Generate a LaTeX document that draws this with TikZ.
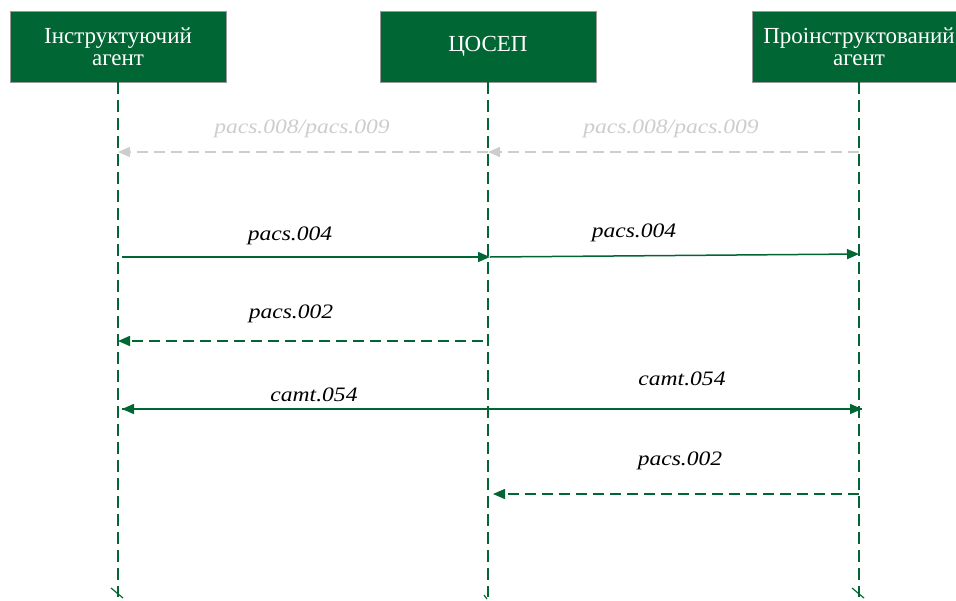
\documentclass[tikz,border=0pt]{standalone}
\usepackage{fontspec}
\setmainfont{Liberation Serif}
\newfontfamily\lblfont[FakeStretch=1.15]{Liberation Serif}
\usetikzlibrary{arrows.meta}
\definecolor{dgreen}{RGB}{0,102,51}
\definecolor{lgray}{RGB}{205,205,205}
\tikzset{
  actor/.style={draw=black!40, line width=0.8pt, fill=dgreen, text=white, minimum height=71, inner sep=0pt, align=center, font=\fontsize{23}{22}\selectfont},
  life/.style={draw=dgreen, line width=1.5pt, dash pattern=on 12pt off 6pt},
  tickmark/.style={draw=dgreen, line width=1.2pt},
  msg/.style={draw=dgreen, line width=1.5pt, -{Triangle[length=12pt,width=10pt]}},
  msgd/.style={msg, dash pattern=on 11pt off 6pt},
  msgg/.style={draw=lgray, line width=1.5pt, dash pattern=on 11pt off 6pt, -{Triangle[length=12pt,width=10pt]}},
  lbl/.style={font=\lblfont\itshape\fontsize{20.5}{20}\selectfont, inner sep=0pt},
  lblg/.style={lbl, text=lgray},
}
\begin{document}
\begin{tikzpicture}[x=1pt,y=-1pt]
\useasboundingbox (0,0) rectangle (956,600);
\clip (0,0) rectangle (956,600);
% actors
\node[actor, minimum width=216] (b1) at (118,46.5) {Інструктуючий\\агент};
\node[actor, minimum width=216] (b2) at (488,46.5) {ЦОСЕП};
\node[actor, minimum width=214] (b3) at (859,46.5) {Проінструктований\\агент};
% lifeline ends
\coordinate (e1) at (118,597);
\coordinate (e2) at (488,597);
\coordinate (e3) at (859,597);
\draw[life] (b1.south) -- (e1);
\draw[life] (b2.south) -- (e2);
\draw[life] (b3.south) -- (e3);
\draw[tickmark] ([shift={(-7,-9)}]e1) -- ([shift={(5,1)}]e1);
\draw[tickmark] ([shift={(-4,-2)}]e2) -- ([shift={(-1,2)}]e2);
\draw[tickmark] ([shift={(-7,-9)}]e3) -- ([shift={(5,1)}]e3);
% message anchor points
\coordinate (g1) at (118,152); \coordinate (g2) at (488,152); \coordinate (g3) at (859,152);
\coordinate (p1) at (122,257); \coordinate (p2) at (490,257); \coordinate (p3) at (859,254);
\coordinate (q1) at (118,341); \coordinate (q2) at (483,341);
\coordinate (c1) at (122,409); \coordinate (c2) at (862,409);
\coordinate (r2) at (493,494); \coordinate (r3) at (859,494);
% messages
\draw[msgg] (g2) -- (g1);
\draw[msgg] (g3) -- (g2);
\draw[msg] (p1) -- (p2);
\draw[msg] (p2) -- (p3);
\draw[msgd] (q2) -- (q1);
\draw[msg] (c2) -- (c1);
\draw[msg] (c1) -- (c2);
\draw[msgd] (r3) -- (r2);
% labels
\node[lblg] (lg1) at (302,129) {pacs.008/pacs.009};
\node[lblg] (lg2) at (671,129) {pacs.008/pacs.009};
\node[lbl] (lp1) at (290,236) {pacs.004};
\node[lbl] (lp2) at (634,233) {pacs.004};
\node[lbl] (lq1) at (291,314) {pacs.002};
\node[lbl] (lc1) at (314,395) {camt.054};
\node[lbl] (lc2) at (682,379) {camt.054};
\node[lbl] (lr1) at (680,461) {pacs.002};
\end{tikzpicture}
\end{document}
